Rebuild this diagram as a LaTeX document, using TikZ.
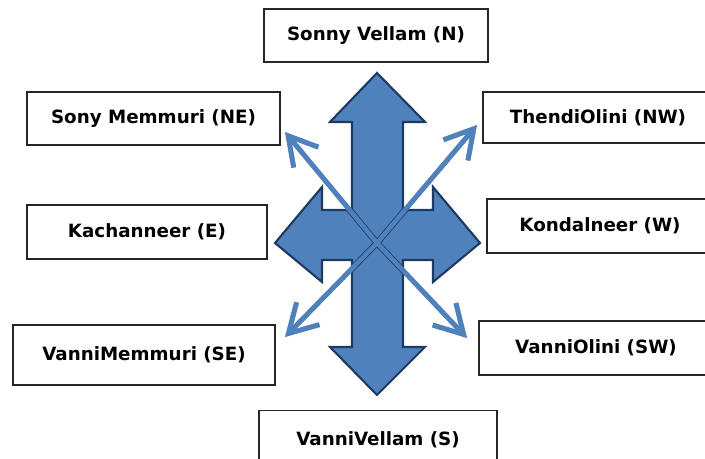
\documentclass[tikz,border=0pt]{standalone}
\usepackage{fontspec}
\setmainfont{DejaVu Sans}
\usetikzlibrary{arrows.meta}
\definecolor{arrowblue}{HTML}{4F81BD}
\definecolor{arrowline}{HTML}{1F3A60}

% outline of the four-way block arrow
\def\blockpath{(377,73) -- (425,122) -- (403,122) -- (403,210) -- (433,210) -- (433,187)
  -- (480,243) -- (433,282) -- (433,260) -- (403,260) -- (403,347) -- (425,347)
  -- (377,395) -- (330,347) -- (352,347) -- (352,260) -- (322,260) -- (322,282)
  -- (275,243) -- (322,187) -- (322,210) -- (352,210) -- (352,122) -- (330,122) -- cycle}

\begin{document}
\begin{tikzpicture}[x=0.025cm, y=-0.025cm,
  dirbox/.style={draw=black!85, line width=1pt, fill=white, inner sep=0pt,
    font=\fontsize{13}{15}\selectfont\bfseries},
  thinarrow/.style={arrowblue, line width=3.5pt, -{Straight Barb[length=7mm, width=8mm]}},
  shadowarrow/.style={thinarrow, black!50, opacity=0.55}]
\clip (0,0) rectangle (705,459);

% Direction boxes
\node[dirbox, minimum width=5.6cm, minimum height=1.325cm] (n) at (376,35.5) {Sonny Vellam (N)};
\node[dirbox, minimum width=6.325cm, minimum height=1.325cm] (ne) at (153.5,118.5) {Sony Memmuri (NE)};
\node[dirbox, minimum width=5.75cm, minimum height=1.275cm] (nw) at (598,117.5) {ThendiOlini (NW)};
\node[dirbox, minimum width=6cm, minimum height=1.35cm] (e) at (147,232) {Kachanneer (E)};
\node[dirbox, minimum width=5.65cm, minimum height=1.35cm] (w) at (600,226) {Kondalneer (W)};
\node[dirbox, minimum width=6.55cm, minimum height=1.5cm] (se) at (144,355) {VanniMemmuri (SE)};
\node[dirbox, minimum width=5.85cm, minimum height=1.35cm] (sw) at (596,348) {VanniOlini (SW)};
\node[dirbox, minimum width=5.95cm, minimum height=1.475cm] (s) at (378,440) {VanniVellam (S)};

% Four-way block arrow
\draw[arrowline, line width=1.5pt, fill=arrowblue] \blockpath;

% Diagonal arrows
\coordinate (c) at (377,243);
\coordinate (tne) at (285,132);
\coordinate (tnw) at (477,125);
\coordinate (tse) at (285,337);
\coordinate (tsw) at (467,338);
\begin{scope}[shift={(2,2)}]
  \draw[shadowarrow] (c) -- (tne);
  \draw[shadowarrow] (c) -- (tnw);
  \draw[shadowarrow] (c) -- (tse);
  \draw[shadowarrow] (c) -- (tsw);
\end{scope}
\draw[thinarrow] (c) -- (tne);
\draw[thinarrow] (c) -- (tnw);
\draw[thinarrow] (c) -- (tse);
\draw[thinarrow] (c) -- (tsw);

% edges of the diagonals where they cross the block arrow
\begin{scope}
  \clip \blockpath;
  \foreach \t in {tne,tnw,tse,tsw}
    \draw[arrowline, line width=4.4pt] (c) -- (\t);
  \foreach \t in {tne,tnw,tse,tsw}
    \draw[arrowblue, line width=3.3pt] (c) -- (\t);
\end{scope}
\end{tikzpicture}
\end{document}
